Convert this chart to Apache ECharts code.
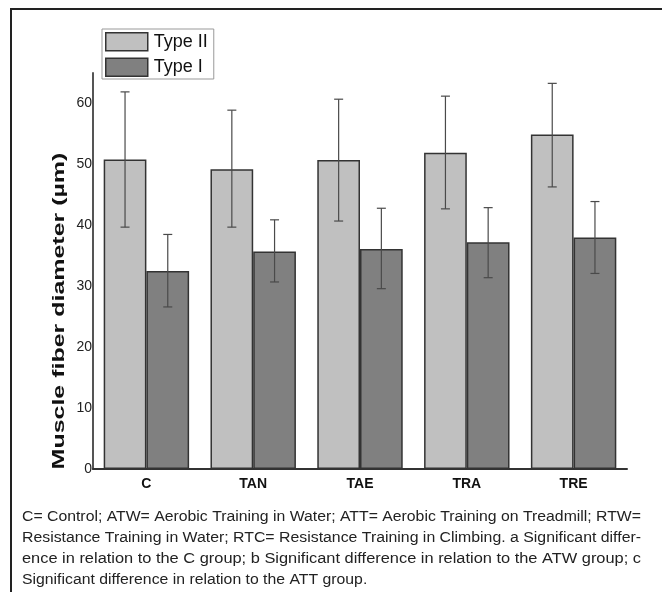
<!DOCTYPE html>
<html>
<head>
<meta charset="utf-8">
<script src="https://cdn.jsdelivr.net/npm/echarts@6/dist/echarts.min.js"></script>
<style>
  html, body { margin: 0; padding: 0; background: #fff; }
  #main { width: 662px; height: 592px; }
</style>
</head>
<body>
<div id="main"></div>
<script>
// groups on the x axis
const categories = ["C", "TAN", "TAE", "TRA", "TRE"];

// Type II fibres: mean and error bar ends
const typeII = [50.8, 49.2, 50.7, 51.9, 54.9];
const typeIIHigh = [61.9, 58.9, 60.7, 61.2, 63.3];
const typeIILow = [39.7, 39.7, 40.7, 42.7, 46.3];

// Type I fibres: mean and error bar ends
const typeI = [32.5, 35.7, 36.1, 37.2, 38.0];
const typeIHigh = [38.5, 40.9, 42.8, 42.9, 43.9];
const typeILow = [26.6, 30.7, 29.6, 31.4, 32.1];

const yMin = 0;
const yMax = 65;
const yStep = 10;

const captionLines = [
  "C= Control; ATW= Aerobic Training in Water; ATT= Aerobic Training on Treadmill; RTW=",
  "Resistance Training in Water; RTC= Resistance Training in Climbing. a Significant differ-",
  "ence in relation to the C group; b Significant difference in relation to the ATW group; c",
  "Significant difference in relation to the ATT group."
];

let chart = echarts.init(document.getElementById("main"));

// whiskers drawn on top of each bar (side -1 = left bar, 1 = right bar)
let errorRender = (side) => (params, api) => {
  let i = api.value(0);
  let top = api.coord([i, api.value(1)]);
  let bottom = api.coord([i, api.value(2)]);
  let catW = api.size([1, 0])[0];
  let barW = (catW * 0.8) / 2;
  let x = top[0] + (side * barW) / 2;
  let cap = 4.5;
  let style = { stroke: "#4a4a4a", lineWidth: 1.2 };
  return {
    type: "group",
    children: [
      { type: "line", shape: { x1: x, y1: top[1], x2: x, y2: bottom[1] }, style: style },
      { type: "line", shape: { x1: x - cap, y1: top[1], x2: x + cap, y2: top[1] }, style: style },
      { type: "line", shape: { x1: x - cap, y1: bottom[1], x2: x + cap, y2: bottom[1] }, style: style },
    ],
  };
};

// caption is justified in the figure: stretch the first lines to the full width
const captionFont = "14px 'Liberation Sans'";
const captionWidth = 619;
let ctx = document.createElement("canvas").getContext("2d");
ctx.font = captionFont;
let captionScales = captionLines.map((t) => captionWidth / ctx.measureText(t).width);
captionScales[3] = captionScales[0];

let option = {
  animation: false,
  backgroundColor: "#fff",
  grid: {
    left: 93,
    right: 35,
    top: 73,
    bottom: 123,
  },
  legend: {
    orient: "vertical",
    left: 102,
    top: 29,
    padding: [3, 6, 2, 3],
    itemWidth: 42,
    itemHeight: 18,
    itemGap: 6,
    borderColor: "#999",
    borderWidth: 1,
    icon: "rect",
    textStyle: {
      fontFamily: "Liberation Sans",
      fontSize: 18,
      color: "#111",
      padding: [0, 0, 0, 1],
    },
    data: [
      { name: "Type II", itemStyle: { color: "#c0c0c0", borderColor: "#333", borderWidth: 1.5 } },
      { name: "Type I", itemStyle: { color: "#808080", borderColor: "#333", borderWidth: 1.5 } },
    ],
  },
  xAxis: {
    type: "category",
    data: categories,
    axisTick: { show: false },
    axisLine: { lineStyle: { color: "#333", width: 2 } },
    axisLabel: {
      margin: 8,
      fontFamily: "Liberation Sans",
      fontWeight: "bold",
      fontSize: 14,
      color: "#111",
    },
  },
  yAxis: {
    type: "value",
    min: yMin,
    max: yMax,
    interval: yStep,
    splitLine: { show: false },
    axisTick: { show: false },
    axisLine: { show: true, lineStyle: { color: "#555", width: 2 } },
    axisLabel: {
      margin: 1,
      showMaxLabel: false,
      fontFamily: "Liberation Sans",
      fontSize: 14,
      color: "#222",
    },
  },
  series: [
    {
      name: "Type II",
      type: "bar",
      data: typeII,
      barGap: "0%",
      barCategoryGap: "20%",
      itemStyle: { color: "#c0c0c0", borderColor: "#333", borderWidth: 1.5 },
    },
    {
      name: "Type I",
      type: "bar",
      data: typeI,
      itemStyle: { color: "#808080", borderColor: "#333", borderWidth: 1.5 },
    },
    {
      name: "errII",
      type: "custom",
      z: 5,
      renderItem: errorRender(-1),
      encode: { x: 0, y: [1, 2] },
      data: categories.map((c, i) => [i, typeIIHigh[i], typeIILow[i]]),
    },
    {
      name: "errI",
      type: "custom",
      z: 5,
      renderItem: errorRender(1),
      encode: { x: 0, y: [1, 2] },
      data: categories.map((c, i) => [i, typeIHigh[i], typeILow[i]]),
    },
  ],
  graphic: [
    {
      // figure frame (right and bottom edges are off the page)
      type: "rect",
      silent: true,
      shape: { x: 11, y: 9, width: 800, height: 800 },
      style: { fill: null, stroke: "#222", lineWidth: 2 },
    },
    {
      type: "text",
      x: 60,
      y: 311,
      rotation: Math.PI / 2,
      scaleX: 1.56,
      style: {
        text: "Muscle fiber diameter (µm)",
        font: "bold 16px 'Liberation Sans'",
        fill: "#111",
        align: "center",
        verticalAlign: "middle",
      },
    },
  ].concat(
    captionLines.map((t, i) => ({
      type: "text",
      x: 22,
      y: 517 + i * 21,
      scaleX: captionScales[i],
      style: {
        text: t,
        font: captionFont,
        fill: "#222",
        verticalAlign: "middle",
      },
    }))
  ),
};
chart.setOption(option);
</script>
</body>
</html>
